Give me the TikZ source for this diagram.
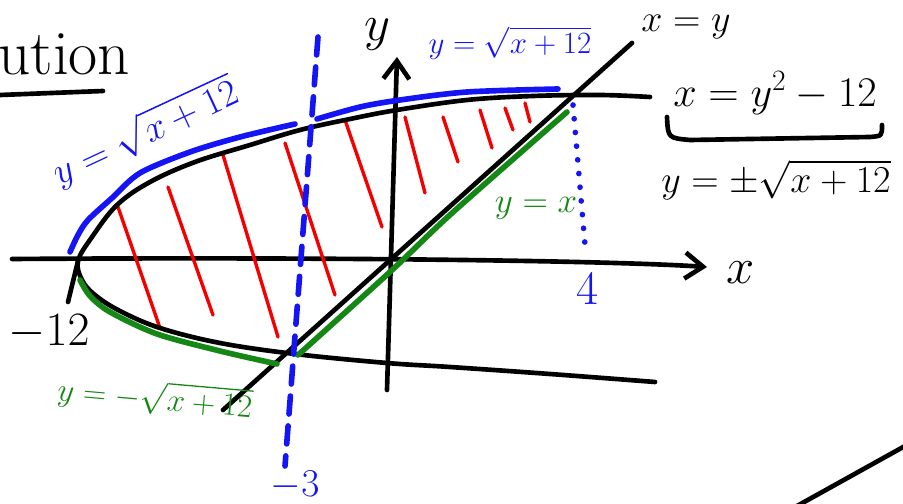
\RequirePackage{fix-cm}
\documentclass[tikz,border=0pt]{standalone}
\usepackage{xcolor}
\usepackage{tikz}
\usepackage{amsmath, amssymb}
\usetikzlibrary{arrows.meta}

\begin{document}
\begin{tikzpicture}[x=0.025cm, y=-0.025cm, line cap=round, line join=round,
  every node/.style={inner sep=0pt, font=\fontsize{24}{28}\selectfont},
  trazo/.style={line width=3.3pt},
  borde/.style={line width=4pt},
  sombra/.style={draw=rojoTrazo, line width=2.4pt},
  flecha/.style={-{Straight Barb[length=4.5mm, width=6.5mm]}}]
  \definecolor{azulTrazo}{RGB}{20,20,245}
  \definecolor{verdeTrazo}{RGB}{20,135,20}
  \definecolor{rojoTrazo}{RGB}{245,0,0}

  \useasboundingbox (0,0) rectangle (903,504);

  \coordinate (O) at (392,259);    % origen
  \coordinate (V) at (78,261);     % vertice (-12,0)
  \coordinate (P) at (295,354);    % (-3,-3)
  \coordinate (Q) at (577,95);     % (4,4)

  % ejes
  \draw[trazo, flecha] (12,259) .. controls (300,257) and (600,260) .. (707,267) coordinate (xfin);
  \draw[trazo, flecha] (387,390) -- (397,57) coordinate (yfin);
  \node (xlab) at (741,273) {\fontsize{36}{38}\selectfont $x$};
  \node (ylab) at (377,35) {\fontsize{36}{38}\selectfont $y$};

  % sombreado
  \foreach \xa/\ya/\xb/\yb in {118/207/160/328, 168/187/213/315, 223/155/278/337,
      285/143/335/295, 345/120/382/227, 405/117/425/193, 443/117/458/162,
      480/110/492/148, 505/108/513/130, 525/103/530/122}
    \draw[sombra] (\xa,\ya) -- (\xb,\yb);

  % parabola x = y^2 - 12
  \draw[trazo] plot[smooth, tension=0.6] coordinates {(650,97) (600,95) (533,96) (467,100)
      (397,110) (350,119) (300,130) (250,145) (195,162) (150,182) (117,205) (92,237)
      (V) (82,280) (95,295) (120,311) (160,328) (220,343) (P) (387,363) (450,367)
      (550,374) (655,382)};
  \draw[trazo] (V) -- (68,302);    % marca -12

  % recta x = y
  \draw[trazo] (223,410) -- (632,43) coordinate (rfin);

  % trazos de color
  \draw[azulTrazo, borde] plot[smooth] coordinates {(70,252) (78,235) (88,220) (112,198)
      (140,173) (190,152) (240,137) (295,124)};
  \draw[azulTrazo, borde] plot[smooth] coordinates {(317,119) (360,107) (400,100)
      (467,92) (558,89)};
  \draw[verdeTrazo, borde] plot[smooth] coordinates {(80,280) (90,296) (110,312)
      (157,334) (220,351) (277,364)};
  \draw[verdeTrazo, borde] plot[smooth] coordinates {(298,355) (391,271) (451,214) (567,112)};

  % limites x = -3 y x = 4
  \draw[azulTrazo, borde, dash pattern=on 0.45cm off 0.3cm] (318,37) -- (285,466);
  \draw[azulTrazo, borde, dash pattern=on 0.1pt off 0.34cm] (Q) ++(-4,10) -- (585,245);

  % textos
  \node[anchor=west] (titulo) at (-2,54) {\fontsize{45}{48}\selectfont ution};
  \draw[trazo] (0,95) -- (103,91);
  \node (rlab) at (686,27) {\fontsize{27}{30}\selectfont $x=y$};
  \node[azulTrazo] (arriba) at (510,43) {\fontsize{22}{24}\selectfont $y=\sqrt{x+12}$};
  \node[azulTrazo, rotate=25] (izq) at (145,132) {\fontsize{27}{30}\selectfont $y=\sqrt{x+12}$};
  \node[verdeTrazo] (ylin) at (536,208) {\fontsize{25}{28}\selectfont $y=x$};
  \node[verdeTrazo, rotate=-5] (abajo) at (155,398) {\fontsize{23}{26}\selectfont $y=-\sqrt{x+12}$};
  \node (menos12) at (49,332) {\fontsize{34}{36}\selectfont $-12$};
  \node[azulTrazo] (menos3) at (295,485) {\fontsize{28}{30}\selectfont $-3$};
  \node[azulTrazo] (cuatro) at (587,289) {\fontsize{34}{36}\selectfont $4$};
  \node (ecx) at (775,93) {\fontsize{30}{32}\selectfont $x=y^2-12$};
  \draw[trazo] (667,117) .. controls (668,138) .. (690,140) -- (870,137) .. controls (882,136) .. (882,125);
  \node (ecy) at (776,180) {\fontsize{27}{32}\selectfont $y=\pm\sqrt{x+12}$};

  \draw[trazo] (797,506) -- (905,446);  % trazo de la esquina
\end{tikzpicture}
\end{document}
